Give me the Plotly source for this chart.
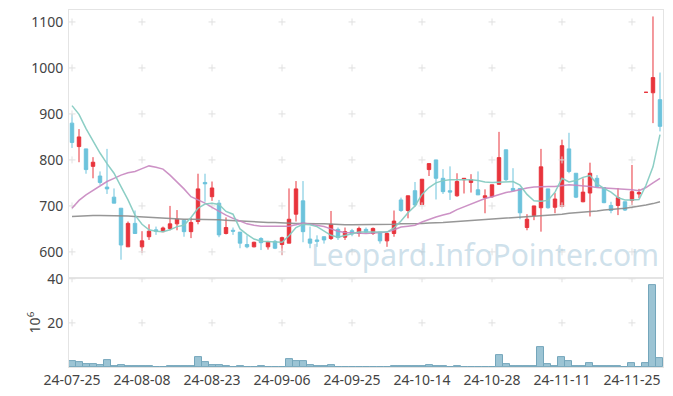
import plotly.graph_objects as go
from plotly.subplots import make_subplots

dates = [
 "2024-07-25","2024-07-26","2024-07-29","2024-07-30","2024-07-31",
 "2024-08-01","2024-08-02","2024-08-05","2024-08-06","2024-08-07","2024-08-08","2024-08-09",
 "2024-08-12","2024-08-13","2024-08-14","2024-08-16","2024-08-19","2024-08-20","2024-08-21",
 "2024-08-22","2024-08-23","2024-08-26","2024-08-27","2024-08-28","2024-08-29","2024-08-30",
 "2024-09-02","2024-09-03","2024-09-04","2024-09-05","2024-09-06","2024-09-09","2024-09-10",
 "2024-09-11","2024-09-12","2024-09-13","2024-09-19","2024-09-20","2024-09-23","2024-09-24",
 "2024-09-25","2024-09-26","2024-09-27","2024-09-30","2024-10-02","2024-10-04","2024-10-07",
 "2024-10-08","2024-10-10","2024-10-11","2024-10-14","2024-10-15","2024-10-16","2024-10-17",
 "2024-10-18","2024-10-21","2024-10-22","2024-10-23","2024-10-24","2024-10-25","2024-10-28",
 "2024-10-29","2024-10-30","2024-10-31","2024-11-01","2024-11-04","2024-11-05","2024-11-06",
 "2024-11-07","2024-11-08","2024-11-11","2024-11-12","2024-11-13","2024-11-14","2024-11-15",
 "2024-11-18","2024-11-19","2024-11-20","2024-11-21","2024-11-22","2024-11-25","2024-11-26",
 "2024-11-27","2024-11-28","2024-11-29"]

open_ = [880,829,824,786,765,741,719,695,611,662,611,633,648,644,651,661,669,644,666,751,
         720,706,640,647,643,616,611,629,611,623,616,619,682,711,628,626,633,629,649,632,
         646,640,649,640,643,624,640,713,690,733,703,779,800,760,733,722,757,751,735,718,
         720,747,822,738,738,653,679,696,737,697,699,824,771,709,728,760,740,701,701,709,
         712,726,947,946,931]
high = [900,867,824,806,775,824,738,695,666,690,645,660,655,655,700,691,669,674,770,770,
        753,713,675,653,643,636,622,632,624,626,633,738,754,754,655,636,633,689,653,653,
        650,655,653,653,643,641,690,718,722,752,758,792,800,780,786,771,760,769,775,736,
        746,861,822,782,738,682,700,824,737,728,844,859,771,760,794,767,740,709,739,709,
        789,737,947,1112,990]
low = [826,795,770,760,746,726,706,583,611,640,598,626,637,643,647,647,633,630,660,709,
       711,632,638,637,608,608,610,604,605,606,593,619,666,621,608,611,618,626,626,626,
       634,633,640,637,618,611,633,687,673,698,702,765,714,726,713,720,727,729,724,684,
       718,746,754,733,671,647,669,644,694,684,697,771,717,708,677,742,706,684,680,689,
       702,717,947,880,862]
close = [838,850,779,795,751,737,706,615,662,640,624,645,645,652,661,671,644,664,737,748,
         739,637,653,645,619,611,621,620,621,608,631,671,737,644,619,623,626,660,631,644,
         639,651,643,651,624,640,667,690,722,702,758,792,760,731,730,753,760,757,724,722,
         746,805,757,733,685,671,700,785,696,715,831,775,719,730,771,742,707,690,718,691,
         731,729,947,979,873]

ma5 = [918,899,868,840,815,792,771,742,713,680,660,648,645,644,648,655,658,675,695,704,
       706,703,688,682,650,638,628,623,622,621,621,635,653,660,659,655,645,636,632,636,
       640,643,643,643,642,643,652,667,685,700,725,740,750,755,757,757,757,757,755,752,
       751,752,753,753,745,725,711,710,712,730,760,752,755,762,766,748,738,730,718,713,
       713,714,745,785,855]
ma20 = [695,712,724,734,744,753,760,767,772,775,781,787,784,780,767,753,737,720,713,706,
        697,688,680,673,667,661,658,656,656,656,656,656,659,663,660,657,655,650,645,642,
        641,640,640,641,642,643,648,654,656,658,665,671,676,680,684,692,698,705,711,716,
        720,725,729,732,736,739,741,742,742,742,744,746,745,744,742,740,739,738,738,737,
        735,733,740,750,760]
ma60 = [677,678,678,679,679,679,679,678,678,677,676,675,674,673,672,672,671,671,671,671,
        671,670,669,668,668,667,666,665,664,664,663,663,662,662,661,661,661,660,660,659,
        659,659,659,659,659,660,660,661,661,662,662,663,663,664,665,666,667,668,669,670,
        671,672,673,674,675,676,677,678,680,681,682,684,685,686,688,689,691,692,694,695,
        697,699,702,705,709]

volume = [2.9,2.0,1.4,1.4,0.9,3.3,0.3,0.9,0.5,0.5,0.5,0.5,0.1,0.1,0.4,0.4,0.4,0.4,4.5,2.3,
          0.9,0.9,0.4,0.1,0.4,0.1,0.1,0.4,0.1,0.1,0.1,3.6,2.7,2.7,0.9,0.4,0.4,0.9,0.1,0.1,
          0.1,0.1,0.1,0.1,0.1,0.1,0.4,0.4,0.4,0.4,0.4,0.9,0.4,0.4,0.1,0.4,0.1,0.1,0.1,0.1,
          0.1,5.2,1.4,0.4,0.4,0.4,0.4,8.8,1.4,0.4,4.5,2.9,0.4,0.4,1.8,0.4,0.4,0.4,0.4,0.1,
          1.8,0.1,1.8,37.0,4.1]

tick_idx = [0, 10, 20, 30, 40, 50, 60, 70, 80]
tick_dates = [dates[i] for i in tick_idx]
tick_text = [d[2:] for d in tick_dates]
price_ticks = [600, 700, 800, 900, 1000, 1100]
vol_ticks = [20, 40]

RED = "#e8343c"
BLUE = "#6cc3dc"
GRID = "#e0e0e0"
BORDER = "#e4e4e4"
FONT = "Noto Sans"

fig = make_subplots(rows=2, cols=1, shared_xaxes=True, vertical_spacing=0,
                    row_heights=[0.751, 0.249])

# grid crosses
gx, gy = [], []
for d in tick_dates:
    for p in price_ticks:
        gx.append(d); gy.append(p)
fig.add_trace(go.Scatter(x=gx, y=gy, mode="markers", hoverinfo="skip",
                         marker=dict(symbol="cross-thin", size=5, line=dict(width=1, color=GRID))),
              row=1, col=1)
fig.add_trace(go.Bar(x=dates, y=volume, marker=dict(color="#9cc4d4", line=dict(color="#74a6bb", width=1))),
              row=2, col=1)
vx, vy = [], []
for d in tick_dates:
    for v in vol_ticks:
        vx.append(d); vy.append(v)
fig.add_trace(go.Scatter(x=vx, y=vy, mode="markers", hoverinfo="skip",
                         marker=dict(symbol="cross-thin", size=5, line=dict(width=1, color=GRID))),
              row=2, col=1)

fig.add_trace(go.Scatter(x=dates, y=ma60, mode="lines", line=dict(color="#8c8c8c", width=1.5),
                         opacity=0.9), row=1, col=1)
fig.add_trace(go.Scatter(x=dates, y=ma20, mode="lines", line=dict(color="#c887c0", width=1.5),
                         opacity=0.9), row=1, col=1)
fig.add_trace(go.Scatter(x=dates, y=ma5, mode="lines", line=dict(color="#86ccc2", width=1.5),
                         opacity=0.95), row=1, col=1)

fig.add_trace(go.Candlestick(x=dates, open=open_, high=high, low=low, close=close,
                             whiskerwidth=0,
                             increasing=dict(line=dict(color=RED, width=1), fillcolor=RED),
                             decreasing=dict(line=dict(color=BLUE, width=1), fillcolor=BLUE)),
              row=1, col=1)

fig.update_layout(
    width=673, height=396,
    margin=dict(l=69, r=10, t=10, b=29),
    paper_bgcolor="white", plot_bgcolor="white",
    showlegend=False, bargap=0,
    font=dict(family=FONT, size=13, color="#444"),
    xaxis_rangeslider_visible=False,
)
xr = [-0.43, len(dates) - 1 + 0.43]
fig.update_xaxes(type="category", categoryorder="array", categoryarray=dates,
                 range=xr, showgrid=False, zeroline=False, automargin=False,
                 showline=True, linecolor=BORDER, linewidth=1, mirror=True,
                 tickvals=tick_dates, ticktext=tick_text, ticks="", tickangle=0,
                 rangeslider_visible=False)
fig.update_xaxes(showticklabels=False, row=1, col=1)
fig.update_xaxes(showticklabels=True, tickfont=dict(size=14, color="#444"), row=2, col=1)
fig.update_yaxes(range=[543, 1126], tickvals=price_ticks, showgrid=False, zeroline=False,
                 showline=True, linecolor=BORDER, linewidth=1, mirror=True, automargin=False,
                 ticks="outside", ticklen=2, tickcolor="rgba(0,0,0,0)",
                 tickfont=dict(size=14, color="#444"), row=1, col=1)
fig.update_yaxes(range=[0, 40.3], tickvals=vol_ticks, showgrid=False, zeroline=False,
                 showline=True, linecolor=BORDER, linewidth=1, mirror=True, automargin=False,
                 ticks="outside", ticklen=2, tickcolor="rgba(0,0,0,0)",
                 tickfont=dict(size=14, color="#444"),
                 title=dict(text="10<sup>6</sup>", font=dict(size=14, color="#444"), standoff=3),
                 row=2, col=1)

fig.add_annotation(text="Leopard.InfoPointer.com", xref="paper", yref="paper",
                   x=0.700, y=0.3165, xanchor="center", yanchor="middle", showarrow=False,
                   font=dict(family=FONT, size=30, color="rgba(160,195,215,0.5)"))

fig.write_html("out.html")
